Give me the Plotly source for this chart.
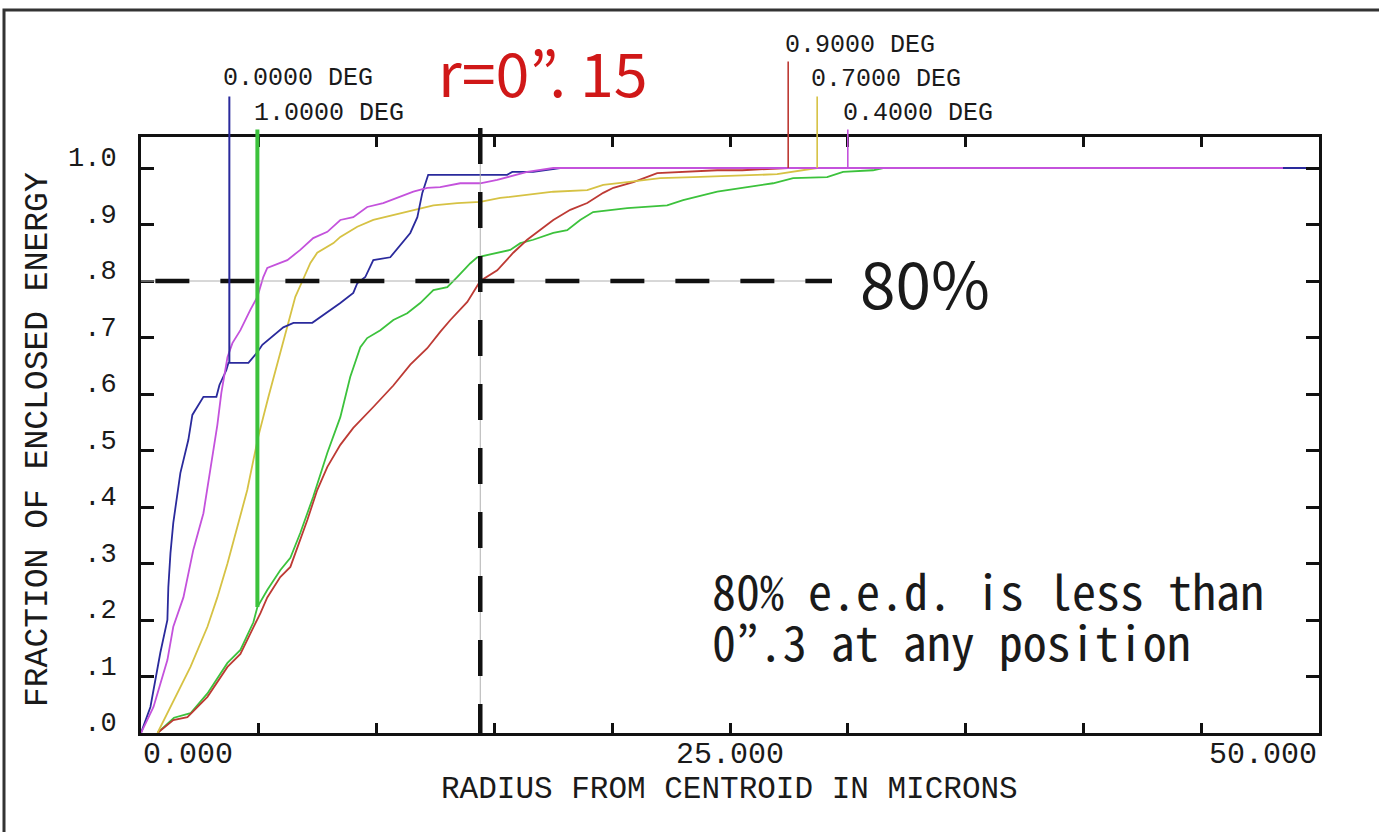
import plotly.graph_objects as go

# ---------------------------------------------------------------------------
# Encircled-energy curves (fraction of enclosed energy vs. radius, microns)
# ---------------------------------------------------------------------------
field_names = ["0.0000 DEG", "1.0000 DEG", "0.9000 DEG", "0.7000 DEG", "0.4000 DEG"]

r_00 = [0, 0.40, 0.82, 1.12, 1.16, 1.25, 1.37, 1.67, 2.01, 2.18, 2.65, 3.20, 3.33,
        3.62, 3.71, 4.56, 4.94, 5.15, 6.04, 6.47, 7.27, 7.61, 8.46, 9.01, 9.18, 9.52,
        9.86, 10.58, 10.92, 11.43, 11.73, 11.94, 12.19, 15.54, 15.76, 16.65, 17.79, 50.0]
ee_00 = [0, 0.046, 0.142, 0.200, 0.258, 0.318, 0.372, 0.460, 0.519, 0.563, 0.595, 0.595,
         0.616, 0.642, 0.655, 0.655, 0.674, 0.687, 0.718, 0.726, 0.726, 0.736, 0.761,
         0.779, 0.796, 0.807, 0.837, 0.842, 0.860, 0.885, 0.913, 0.956, 0.988, 0.988,
         0.993, 0.993, 1.0, 1.0]

r_10 = [0.70, 1.40, 2.10, 2.82, 3.67, 4.22, 4.77, 4.94, 5.36, 5.91, 6.34, 6.76, 7.31,
        7.91, 8.46, 8.88, 9.31, 9.60, 10.16, 10.71, 11.30, 11.85, 12.41, 13.00, 13.42,
        13.97, 14.27, 15.12, 15.67, 16.10, 16.65, 17.50, 18.09, 18.64, 19.19, 20.64,
        22.33, 23.01, 24.46, 25.73, 26.83, 27.68, 29.12, 29.80, 31.07, 31.50, 50.0]
ee_10 = [0, 0.027, 0.035, 0.070, 0.124, 0.147, 0.196, 0.223, 0.253, 0.288, 0.310, 0.354,
         0.418, 0.496, 0.559, 0.630, 0.683, 0.699, 0.713, 0.731, 0.743, 0.761, 0.784,
         0.789, 0.807, 0.831, 0.842, 0.850, 0.855, 0.867, 0.873, 0.885, 0.890, 0.908,
         0.922, 0.929, 0.934, 0.943, 0.958, 0.966, 0.973, 0.982, 0.984, 0.993, 0.996,
         1.0, 1.0]

r_09 = [0.70, 1.37, 1.97, 2.82, 3.67, 4.22, 4.77, 5.07, 5.36, 5.91, 6.34, 6.76, 7.06,
        7.48, 7.91, 8.46, 9.01, 9.86, 10.71, 11.43, 12.15, 12.70, 13.13, 13.85, 14.40,
        15.12, 15.80, 16.39, 16.95, 17.50, 18.22, 18.94, 19.62, 20.05, 20.90, 21.49,
        21.91, 24.46, 25.52, 27.47, 50.0]
ee_09 = [0, 0.023, 0.028, 0.064, 0.117, 0.140, 0.187, 0.212, 0.240, 0.276, 0.294, 0.342,
         0.377, 0.430, 0.471, 0.510, 0.540, 0.577, 0.615, 0.652, 0.681, 0.710, 0.731,
         0.763, 0.800, 0.819, 0.850, 0.873, 0.890, 0.908, 0.926, 0.938, 0.956, 0.965,
         0.975, 0.984, 0.991, 0.996, 0.996, 1.0, 1.0]

r_07 = [0.70, 1.25, 2.10, 2.82, 3.24, 3.67, 4.09, 4.51, 4.77, 4.98, 5.41, 5.79, 6.17,
        6.55, 6.85, 7.19, 7.48, 8.17, 8.46, 9.18, 9.86, 10.71, 11.56, 12.41, 13.42,
        14.40, 15.25, 16.39, 17.50, 18.94, 19.62, 20.64, 22.04, 23.44, 27.00, 28.70, 50.0]
ee_07 = [0, 0.046, 0.117, 0.188, 0.240, 0.300, 0.365, 0.430, 0.483, 0.525, 0.595, 0.655,
         0.713, 0.772, 0.800, 0.832, 0.850, 0.867, 0.878, 0.896, 0.908, 0.917, 0.926,
         0.934, 0.938, 0.940, 0.947, 0.952, 0.958, 0.961, 0.970, 0.975, 0.982, 0.984,
         0.989, 1.0, 1.0]

r_04 = [0, 0.53, 1.12, 1.37, 1.80, 2.22, 2.65, 2.94, 3.24, 3.41, 3.67, 3.88, 4.22, 4.64,
        4.94, 5.19, 5.36, 5.91, 6.21, 6.76, 7.31, 7.91, 8.46, 9.01, 9.60, 10.28, 11.00,
        11.56, 12.15, 12.70, 13.55, 14.40, 15.12, 15.54, 16.39, 17.50, 48.47]
ee_04 = [0, 0.046, 0.129, 0.188, 0.240, 0.324, 0.389, 0.470, 0.545, 0.602, 0.665, 0.690,
         0.713, 0.749, 0.772, 0.807, 0.823, 0.832, 0.837, 0.855, 0.876, 0.887, 0.908,
         0.913, 0.931, 0.938, 0.949, 0.958, 0.965, 0.966, 0.973, 0.973, 0.979, 0.984,
         0.993, 1.0, 1.0]

# label leader: radius where the leader meets the curve, energy there, top of leader
leader_r = [3.75, 4.94, 27.47, 28.70, 30.00]
leader_ee = [0.655, 0.223, 1.0, 1.0, 1.0]
leader_top = [1.129, 1.071, 1.191, 1.129, 1.071]

# reference marks
ee_level = 0.80
r_level = 14.40
x_ticks = list(range(0, 51, 5))
x_labels = {0: "0.000", 25: "25.000", 50: "50.000"}
y_ticks = [i / 10 for i in range(11)]
y_labels = [".0", ".1", ".2", ".3", ".4", ".5", ".6", ".7", ".8", ".9", "1.0"]

# ---------------------------------------------------------------------------
W, H = 1379, 832
PL, PR, PT, PB = 141, 1319, 137, 733      # plot area in pixels
MONO = "Liberation Mono, DejaVu Sans Mono, monospace"
NARROW = "Liberation Sans Narrow, Noto Sans CJK JP, sans-serif"
JPMONO = "Noto Sans Mono CJK JP, Liberation Mono, monospace"
INK = "#1a1a1a"


def px_x(px):
    return (px - PL) / (PR - PL)


def px_y(py):
    return (PB - py) / (PB - PT)


colors = {
    "0.0000 DEG": "#2a2a9c",
    "1.0000 DEG": "#3cc23c",
    "0.9000 DEG": "#bd3a34",
    "0.7000 DEG": "#d6c244",
    "0.4000 DEG": "#c452dc",
}
leader_w = {"0.0000 DEG": 2, "1.0000 DEG": 4, "0.9000 DEG": 1.6,
            "0.7000 DEG": 1.6, "0.4000 DEG": 1.6}

curves = {
    "0.0000 DEG": (r_00, ee_00),
    "1.0000 DEG": (r_10, ee_10),
    "0.9000 DEG": (r_09, ee_09),
    "0.7000 DEG": (r_07, ee_07),
    "0.4000 DEG": (r_04, ee_04),
}

fig = go.Figure()

# draw order: green, red, yellow, blue, magenta on top
for name in ["1.0000 DEG", "0.9000 DEG", "0.7000 DEG", "0.0000 DEG", "0.4000 DEG"]:
    xs, ys = curves[name]
    fig.add_trace(go.Scatter(x=xs, y=ys, mode="lines", name=name,
                             line=dict(color=colors[name], width=1.8),
                             hoverinfo="skip"))

shapes = []
# thin guide lines behind the dashes
shapes.append(dict(type="line", xref="x", yref="y", x0=0, x1=29.33,
                   y0=ee_level, y1=ee_level, line=dict(color="#b0b0b0", width=1)))
shapes.append(dict(type="line", xref="x", yref="paper", x0=r_level, x1=r_level,
                   y0=px_y(128), y1=0, line=dict(color="#b0b0b0", width=1)))
# heavy dashed 80% / r=0".15 lines
shapes.append(dict(type="line", xref="x", yref="y", x0=0.61, x1=29.33,
                   y0=ee_level, y1=ee_level,
                   line=dict(color="#111111", width=4.5, dash="34px,31px")))
shapes.append(dict(type="line", xref="x", yref="paper", x0=r_level, x1=r_level,
                   y0=px_y(128), y1=0,
                   line=dict(color="#111111", width=4.5, dash="36px,28px")))
# outer border of the sheet
shapes.append(dict(type="rect", xref="paper", yref="paper",
                   x0=px_x(4), x1=px_x(1390), y0=px_y(10), y1=px_y(845),
                   line=dict(color="#333333", width=3), layer="below"))

annotations = []
# series labels with leaders down to the curves
label_pos = {
    "0.0000 DEG": (221, 78),
    "1.0000 DEG": (252, 113),
    "0.9000 DEG": (783, 46),
    "0.7000 DEG": (809, 79),
    "0.4000 DEG": (841, 113),
}
for i, name in enumerate(field_names):
    lx, ly = label_pos[name]
    annotations.append(dict(text=name, xref="paper", yref="paper",
                            x=px_x(lx), y=px_y(ly), xanchor="left", yanchor="middle",
                            showarrow=False, font=dict(family=MONO, size=25, color=INK)))
    annotations.append(dict(text="", x=leader_r[i], y=leader_ee[i], xref="x", yref="y",
                            ax=leader_r[i], ay=leader_top[i], axref="x", ayref="y",
                            showarrow=True, arrowhead=0, standoff=0, startstandoff=0,
                            arrowwidth=leader_w[name], arrowcolor=colors[name]))

# x tick labels
for val, anchor in [(0, "left"), (25, "center"), (50, "right")]:
    annotations.append(dict(text=x_labels[val], x=val, xref="x", y=px_y(755), yref="paper",
                            xanchor=anchor, yanchor="middle", showarrow=False,
                            font=dict(family=MONO, size=30, color=INK)))
# axis titles
annotations.append(dict(text="RADIUS FROM CENTROID IN MICRONS", xref="paper", yref="paper",
                        x=px_x(729), y=px_y(789), xanchor="center", yanchor="middle",
                        showarrow=False, font=dict(family=MONO, size=31, color=INK)))
annotations.append(dict(text="FRACTION OF ENCLOSED ENERGY", xref="paper", yref="paper",
                        x=px_x(38), y=px_y(440), xanchor="center", yanchor="middle",
                        textangle=-90, showarrow=False,
                        font=dict(family=MONO, size=33, color=INK)))
# notes
annotations.append(dict(text="r=0\u201d. 15", xref="paper", yref="paper",
                        x=px_x(436), y=px_y(70), xanchor="left", yanchor="middle",
                        showarrow=False, font=dict(family=NARROW, size=61, color="#d01818")))
annotations.append(dict(text="80%", xref="paper", yref="paper",
                        x=px_x(858), y=px_y(281), xanchor="left", yanchor="middle",
                        showarrow=False, font=dict(family=NARROW, size=64, color=INK)))
annotations.append(dict(text="80% e.e.d. is less than", xref="paper", yref="paper",
                        x=px_x(710), y=px_y(589), xanchor="left", yanchor="middle",
                        showarrow=False, font=dict(family=JPMONO, size=48, color=INK)))
annotations.append(dict(text="0\u201d.3 at any position", xref="paper", yref="paper",
                        x=px_x(710), y=px_y(640), xanchor="left", yanchor="middle",
                        showarrow=False, font=dict(family=JPMONO, size=48, color=INK)))

fig.update_layout(
    width=W, height=H,
    margin=dict(l=PL, r=W - PR, t=PT, b=H - PB, pad=0),
    paper_bgcolor="white", plot_bgcolor="white",
    showlegend=False,
    shapes=shapes, annotations=annotations,
    xaxis=dict(range=[0, 50], tickvals=x_ticks, showticklabels=False,
               ticks="inside", ticklen=10, tickwidth=2.5, tickcolor="#111111",
               showline=True, linewidth=3, linecolor="#111111", mirror="ticks",
               showgrid=False, zeroline=False),
    yaxis=dict(range=[0, 596 / 565], tickvals=y_ticks, ticktext=y_labels,
               ticks="inside", ticklen=13, tickwidth=2.5, tickcolor="#111111",
               showline=True, linewidth=3, linecolor="#111111", mirror="ticks",
               showgrid=False, zeroline=False,
               tickfont=dict(family=MONO, size=27, color=INK),
               ticklabelstandoff=16, ticklabelshift=-11),
)

fig.write_html("out.html")
